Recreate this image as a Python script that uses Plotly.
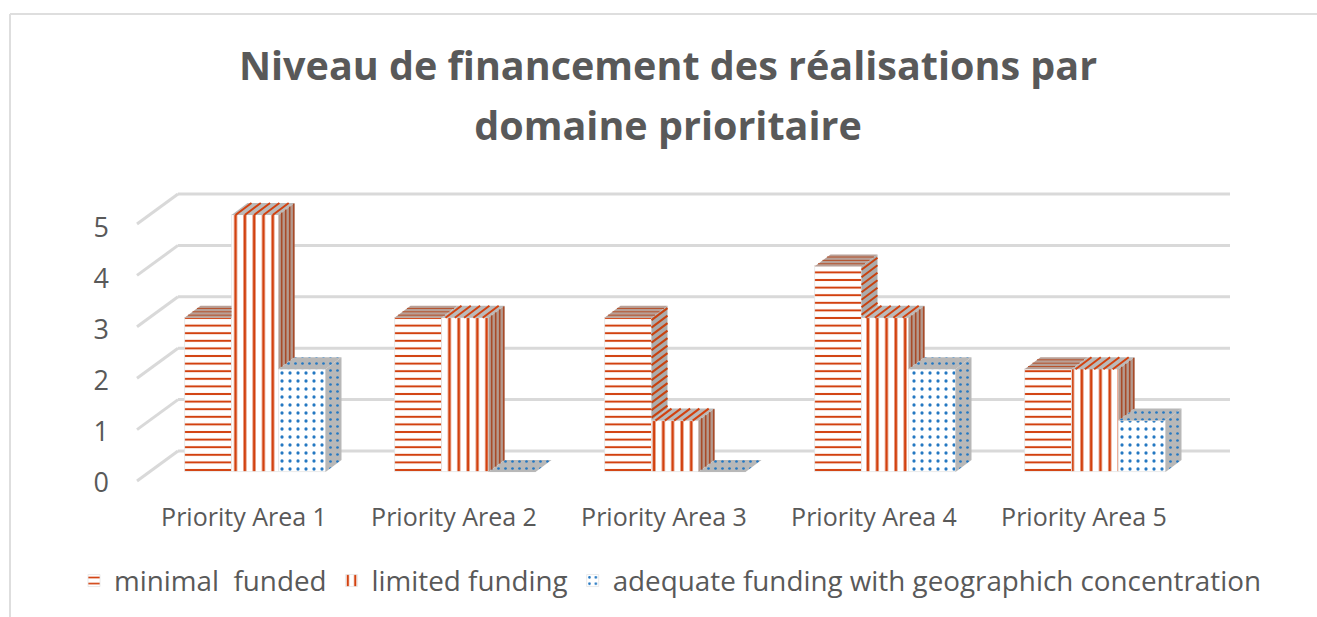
import plotly.graph_objects as go

categories = ["Priority Area 1", "Priority Area 2", "Priority Area 3", "Priority Area 4", "Priority Area 5"]
minimal_funded = [3, 3, 3, 4, 2]
limited_funding = [5, 3, 1, 3, 2]
adequate_funding = [2, 0, 0, 2, 1]
series_names = ["minimal\u00a0 funded", "limited funding", "adequate funding with geographich concentration"]
axis_ticks = [0, 1, 2, 3, 4, 5]
title_lines = ["Niveau de financement des réalisations par", "domaine prioritaire"]

W, H = 1317, 617
L, R, T, B = 110, 1312, 185, 490
PITCH, UNIT = 210.0, 51.4
X0_PX, Y0_PX = 255.0, 472.0
RED = "#d2410f"
BLUE = "#2478c2"
TEXT = "#595959"
GRID = "#d9d9d9"

px_x = lambda p: (p - X0_PX) / PITCH
px_y = lambda p: (Y0_PX - p) / UNIT
DX, DY = 16 / PITCH, 12 / UNIT
BAR_W = 47 / PITCH
xs_ = list(range(len(categories)))
series = [minimal_funded, limited_funding, adequate_funding]

fig = go.Figure()

patterns = [
    dict(shape="-", size=7.6, solidity=0.26, fgcolor=RED, bgcolor="white", fillmode="replace"),
    dict(shape="|", size=9.3, solidity=0.3, fgcolor=RED, bgcolor="white", fillmode="replace"),
    dict(shape=".", size=8, solidity=0.13, fgcolor=BLUE, bgcolor="white", fillmode="replace"),
]
for s, (name, vals, pat) in enumerate(zip(series_names, series, patterns)):
    fig.add_trace(go.Bar(x=xs_, y=vals, name=name, width=BAR_W, offset=(s - 1.5) * BAR_W,
                         marker=dict(color="white", pattern=pat, line=dict(color="#e4e4e4", width=0.8)),
                         hoverinfo="skip"))

def poly(points):
    xs, ys = [], []
    for p in points + [points[0]]:
        xs.append(p[0]); ys.append(p[1])
    xs.append(None); ys.append(None)
    return xs, ys

def add_fill(xs, ys, color, pattern=None):
    fig.add_trace(go.Scatter(x=xs, y=ys, mode="lines", fill="toself", fillcolor=color,
                             fillpattern=pattern, line=dict(width=0), showlegend=False, hoverinfo="skip"))

def add_lines(xs, ys, color, width):
    fig.add_trace(go.Scatter(x=xs, y=ys, mode="lines", line=dict(color=color, width=width),
                             connectgaps=False, showlegend=False, hoverinfo="skip"))

def frange(a, b, s):
    out = []
    v = a
    while v < b - 1e-9:
        out.append(v)
        v += s
    return out

top_f = {0: ([], []), 1: ([], []), 2: ([], [])}
side_f = {0: ([], []), 1: ([], []), 2: ([], [])}
top_l = {0: ([], []), 1: ([], [])}
side_l = {0: ([], []), 1: ([], [])}

def seg(store, a, b):
    store[0].extend([a[0], b[0], None]); store[1].extend([a[1], b[1], None])

def ext(store, pts):
    xs, ys = poly(pts)
    store[0].extend(xs); store[1].extend(ys)

for i in xs_:
    for s in range(3):
        v = series[s][i]
        xl = i - 1.5 * BAR_W + s * BAR_W
        xr = xl + BAR_W
        nxt = series[s + 1][i] if s < 2 else 0
        if nxt > v:
            ext(top_f[s], [(xl, v), (xr, v), (xr, v + DY), (xl + DX, v + DY)])
        else:
            ext(top_f[s], [(xl, v), (xr, v), (xr + DX, v + DY), (xl + DX, v + DY)])
        if v > nxt:
            ext(side_f[s], [(xr, nxt), (xr, v), (xr + DX, v + DY), (xr + DX, nxt + DY)])
        if s == 0:
            for t in (0.22, 0.5, 0.78):
                a = xl + t * DX
                b = xr if nxt > v else xr + t * DX
                seg(top_l[0], (a, v + t * DY), (b, v + t * DY))
            for y in frange(nxt + 3 / UNIT, v, 7.5 / UNIT):
                seg(side_l[0], (xr, y), (xr + DX, y + DY))
        if s == 1:
            for x in frange(xl + 4 / PITCH, xr, 9.3 / PITCH):
                seg(top_l[1], (x, v), (x + DX, v + DY))
            if v > nxt:
                for t in (0.2, 0.45, 0.7, 0.95):
                    seg(side_l[1], (xr + t * DX, nxt + t * DY), (xr + t * DX, v + t * DY))

add_fill(*top_f[0], "#b8a097")
add_fill(*side_f[0], "#ababab")
add_fill(*top_f[1], "#bababa")
add_fill(*side_f[1], "#b49a8e")
dot = dict(shape=".", size=7, solidity=0.12, fgcolor=BLUE, bgcolor="#b8b8b8", fillmode="replace")
add_fill(*top_f[2], "#b8b8b8", dot)
add_fill(*side_f[2], "#b8b8b8", dot)
add_lines(*top_l[0], "#b5502a", 1)
add_lines(*side_l[0], "#c8420f", 2)
add_lines(*top_l[1], "#d2410f", 2)
add_lines(*side_l[1], "#a84a28", 1.6)

BACK_X, FRONT_X = 178, 137
BACK_OFF, FRONT_OFF = (472 - 451) / UNIT, -9 / UNIT
shapes = []
for v in axis_ticks:
    shapes.append(dict(type="line", layer="below", xref="x", yref="y",
                       x0=px_x(BACK_X), x1=px_x(1230), y0=v + BACK_OFF, y1=v + BACK_OFF,
                       line=dict(color=GRID, width=3)))
    shapes.append(dict(type="line", layer="below", xref="x", yref="y",
                       x0=px_x(FRONT_X), x1=px_x(BACK_X), y0=v + FRONT_OFF, y1=v + BACK_OFF,
                       line=dict(color=GRID, width=3)))
pw, ph = R - L, B - T
pxp = lambda p: (p - L) / pw
pyp = lambda p: (B - p) / ph
shapes.append(dict(type="line", xref="paper", yref="paper", x0=pxp(10), x1=pxp(W), y0=pyp(14), y1=pyp(14),
                   line=dict(color="#dedede", width=2)))
shapes.append(dict(type="line", xref="paper", yref="paper", x0=pxp(10), x1=pxp(10), y0=pyp(14), y1=pyp(H),
                   line=dict(color="#dedede", width=2)))

title_text = "<br>".join(f'<span style="font-size:39.5px">{t}</span>' for t in title_lines)
fig.update_layout(
    width=W, height=H, autosize=False,
    margin=dict(l=L, r=W - R, t=T, b=H - B, pad=0, autoexpand=False),
    paper_bgcolor="white", plot_bgcolor="white",
    barmode="overlay", bargap=0, bargroupgap=0,
    font=dict(family="Open Sans", color=TEXT),
    title=dict(text=title_text, font=dict(family="Open Sans", size=46, color=TEXT, weight="bold"),
               x=668 / W, xanchor="center", y=1 - 80 / H, yanchor="middle"),
    xaxis=dict(range=[px_x(L), px_x(R)], tickvals=[i - 11 / PITCH for i in xs_], ticktext=categories,
               showgrid=False, zeroline=False, showline=False, ticks="outside", ticklen=5,
               tickcolor="rgba(0,0,0,0)", tickfont=dict(size=25, color=TEXT), fixedrange=True),
    yaxis=dict(range=[px_y(B), px_y(T)], tickvals=[(472 - (483 - 51 * v)) / UNIT for v in axis_ticks],
               ticktext=[str(v) for v in axis_ticks],
               showgrid=False, zeroline=False, showline=False, ticks="", tickfont=dict(size=27, color=TEXT), fixedrange=True),
    legend=dict(orientation="h", x=670 / W, xanchor="center", xref="container", y=1 - 581 / H, yref="container", yanchor="middle",
                font=dict(size=27.8, color=TEXT), itemwidth=30, traceorder="normal", bgcolor="rgba(0,0,0,0)"),
    shapes=shapes,
)
fig.write_html("out.html", post_script="document.body.style.margin='0';document.body.style.overflow='hidden';",
               config={"displayModeBar": False})
